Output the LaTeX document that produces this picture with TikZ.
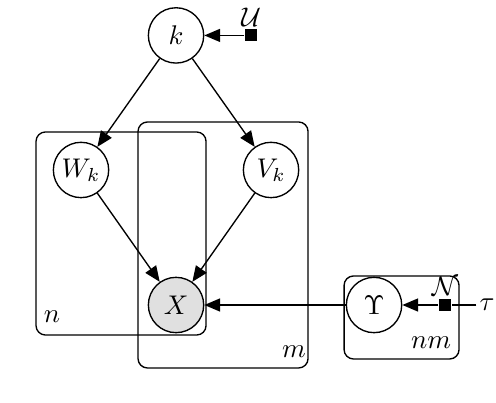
\documentclass[tikz,border=0pt]{standalone}
\usepackage{amsmath,amssymb}
\usepackage{tikz}
\usetikzlibrary{arrows.meta,shapes,positioning}

\begin{document}
\begin{tikzpicture}[line width=0.5pt,
  >={Triangle[length=5.8pt,width=4.8pt]},
  latent/.style={circle,draw,minimum size=20.5pt,inner sep=0pt},
  obs/.style={latent,fill=black!12},
  factor/.style={rectangle,fill=black,minimum size=4.4pt,inner sep=0pt},
  plate/.style={draw,rounded corners=3.5pt}]
\useasboundingbox (-2.292,-1.263) rectangle (4.166,3.971);
% plates
\draw[plate] (-1.823,-0.391) rectangle (0.391,2.253);
\draw[plate] (-0.495,-0.820) rectangle (1.719,2.383);
\draw[plate] (2.188,-0.703) rectangle (3.685,0.378);
\node (Pn) at (-1.615,-0.156) {$n$};
\node (Pm) at (1.537,-0.612) {$m$};
\node (Pnm) at (3.32,-0.495) {$nm$};
% nodes
\node (K) at (0,3.51) [latent] {$k$};
\node (W) at (-1.237,1.758) [latent] {$W_k$};
\node (V) at (1.237,1.758) [latent] {$V_k$};
\node (X) at (0,0) [obs] {$X$};
\node (Y) at (2.578,0) [latent] {$\Upsilon$};
\node (U) at (0.977,3.51) [factor,label={[inner sep=0.5pt]90:{$\mathcal{U}$}}] {};
\node (N) at (3.502,0) [factor,label={[inner sep=1pt]90:{$\mathcal{N}$}}] {};
\node (T) at (4.05,0) [inner sep=1pt] {$\tau$};
% edges
\draw[->] (K)--(W);
\draw[->] (K)--(V);
\draw[->] (W)--(X);
\draw[->] (V)--(X);
\draw[->] (Y)--(X);
\draw[->] (U)--(K);
\draw[->] (N)--(Y);
\draw (T)--(N);

\end{tikzpicture}
\end{document}
